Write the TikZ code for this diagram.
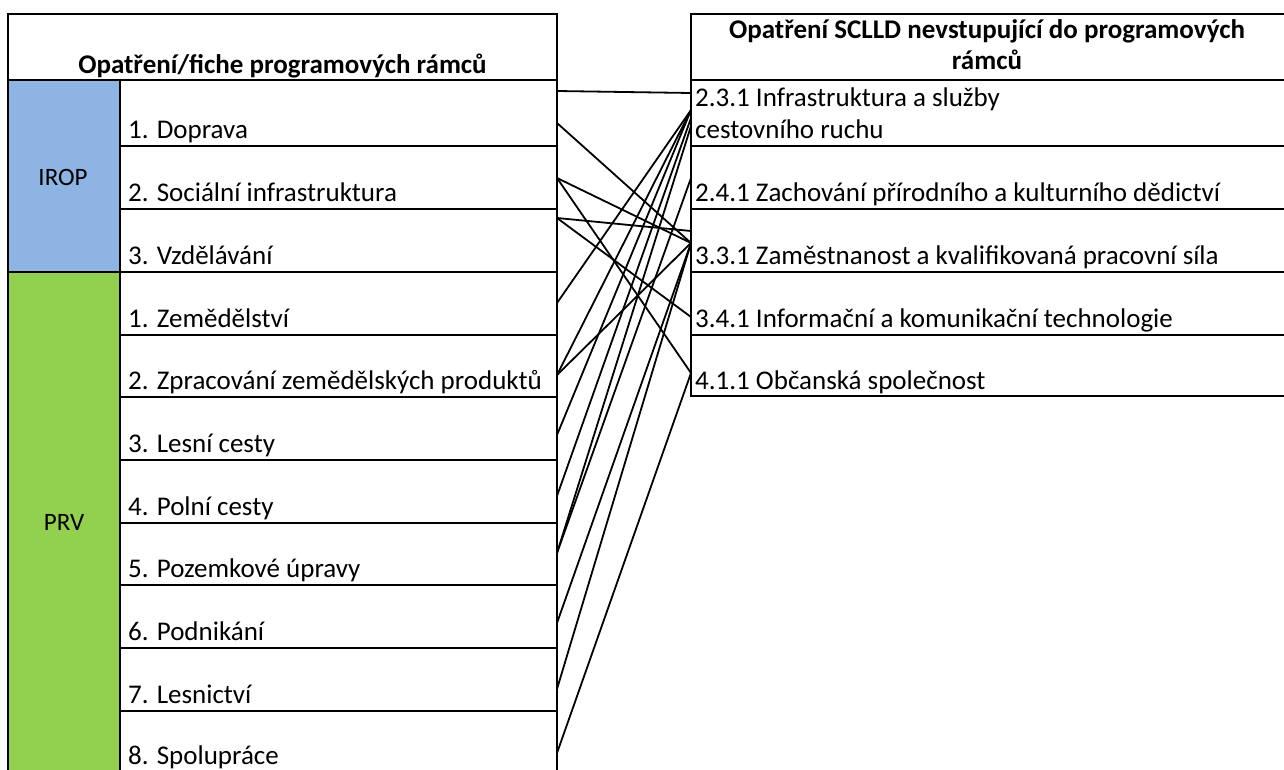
\documentclass[tikz,border=0pt]{standalone}
\usepackage{fontspec}
\setmainfont{Carlito}
\definecolor{iropblue}{HTML}{8DB4E2}
\definecolor{prvgreen}{HTML}{92D050}
\begin{document}
\begin{tikzpicture}[x=1pt,y=-1pt,
  grid/.style={line width=2pt, line cap=rect},
  link/.style={line width=1.8pt},
  lbl/.style={anchor=base west, inner sep=0pt, font=\fontsize{27}{32}\selectfont},
  hdr/.style={anchor=base, inner sep=0pt, font=\fontsize{27}{32}\selectfont\bfseries},
  cat/.style={inner sep=0pt, font=\fontsize{25}{30}\selectfont}]
\useasboundingbox (0,0) rectangle (1284,770);
\clip (0,0) rectangle (1284,770);
% fills
\fill[iropblue] (8,80) rectangle (120,272);
\fill[prvgreen] (8,272) rectangle (120,790);
% left table
\draw[grid] (8,790) -- (8,14) -- (557,14) -- (557,790);
\draw[grid] (8,80) -- (557,80);
\draw[grid] (120,80) -- (120,790);
\draw[grid] (8,272) -- (557,272);
\foreach \y in {146,209,335,397,460,523,585,648,711,774}
  \draw[grid] (120,\y) -- (557,\y);
% right table
\draw[grid] (691,396) -- (691,14) -- (1290,14);
\foreach \y in {80,146,209,272,335,396}
  \draw[grid] (691,\y) -- (1290,\y);
% headers
\node[hdr] (hl) at (282.5,74) {Opatření/fiche programových rámců};
\node[hdr] (hr1) at (987,39) {Opatření SCLLD nevstupující do programových};
\node[hdr] (hr2) at (987,70) {rámců};
% categories
\node[cat] (irop) at (63,177) {IROP};
\node[cat] (prv) at (64,522) {PRV};
% left labels
\node[lbl] (l1) at (128,139) {1. Doprava};
\node[lbl] (l2) at (128,201) {2. Sociální infrastruktura};
\node[lbl] (l3) at (128,264) {3. Vzdělávání};
\node[lbl] (p1) at (128,327) {1. Zemědělství};
\node[lbl] (p2) at (128,389) {2. Zpracování zemědělských produktů};
\node[lbl] (p3) at (128,452) {3. Lesní cesty};
\node[lbl] (p4) at (128,515) {4. Polní cesty};
\node[lbl] (p5) at (128,577) {5. Pozemkové úpravy};
\node[lbl] (p6) at (128,640) {6. Podnikání};
\node[lbl] (p7) at (128,703) {7. Lesnictví};
\node[lbl] (p8) at (128,764) {8. Spolupráce};
% right labels
\node[lbl] (r1a) at (695,107) {2.3.1 Infrastruktura a služby};
\node[lbl] (r1b) at (695,139) {cestovního ruchu};
\node[lbl] (r2) at (695,201) {2.4.1 Zachování přírodního a kulturního dědictví};
\node[lbl] (r3) at (695,264) {3.3.1 Zaměstnanost a kvalifikovaná pracovní síla};
\node[lbl] (r4) at (695,327) {3.4.1 Informační a komunikační technologie};
\node[lbl] (r5) at (695,389) {4.1.1 Občanská společnost};
% connector endpoints (left)
\coordinate (A1) at (557,91);
\coordinate (A2) at (557,123);
\coordinate (B)  at (557,178);
\coordinate (C)  at (557,218);
\coordinate (D)  at (557,303);
\coordinate (E)  at (557,375);
\coordinate (F)  at (557,435);
\coordinate (G)  at (557,496);
\coordinate (H)  at (557,553);
\coordinate (I)  at (557,623);
\coordinate (J)  at (557,689);
\coordinate (K)  at (557,753);
% connector endpoints (right)
\coordinate (R0) at (691,93);
\coordinate (R1) at (691,110);
\coordinate (R1b) at (691,118);
\coordinate (R1c) at (691,126);
\coordinate (R2) at (691,178);
\coordinate (R3a) at (691,231);
\coordinate (R3) at (691,243);
\coordinate (R4) at (691,317);
\coordinate (R5) at (691,373);
% connectors
\draw[link] (A1) -- (R0);
\draw[link] (A2) -- (R3);
\draw[link] (B) -- (R3);
\draw[link] (B) -- (R5);
\draw[link] (C) -- (R3a);
\draw[link] (C) -- (R4);
\draw[link] (D) -- (R1);
\draw[link] (E) -- (R1);
\draw[link] (E) -- (R3);
\draw[link] (F) -- (R1);
\draw[link] (G) -- (R1b);
\draw[link] (H) -- (R1c);
\draw[link] (H) -- (R2);
\draw[link] (I) -- (R3);
\draw[link] (J) -- (R3);
\draw[link] (K) -- (R5);
\end{tikzpicture}
\end{document}
